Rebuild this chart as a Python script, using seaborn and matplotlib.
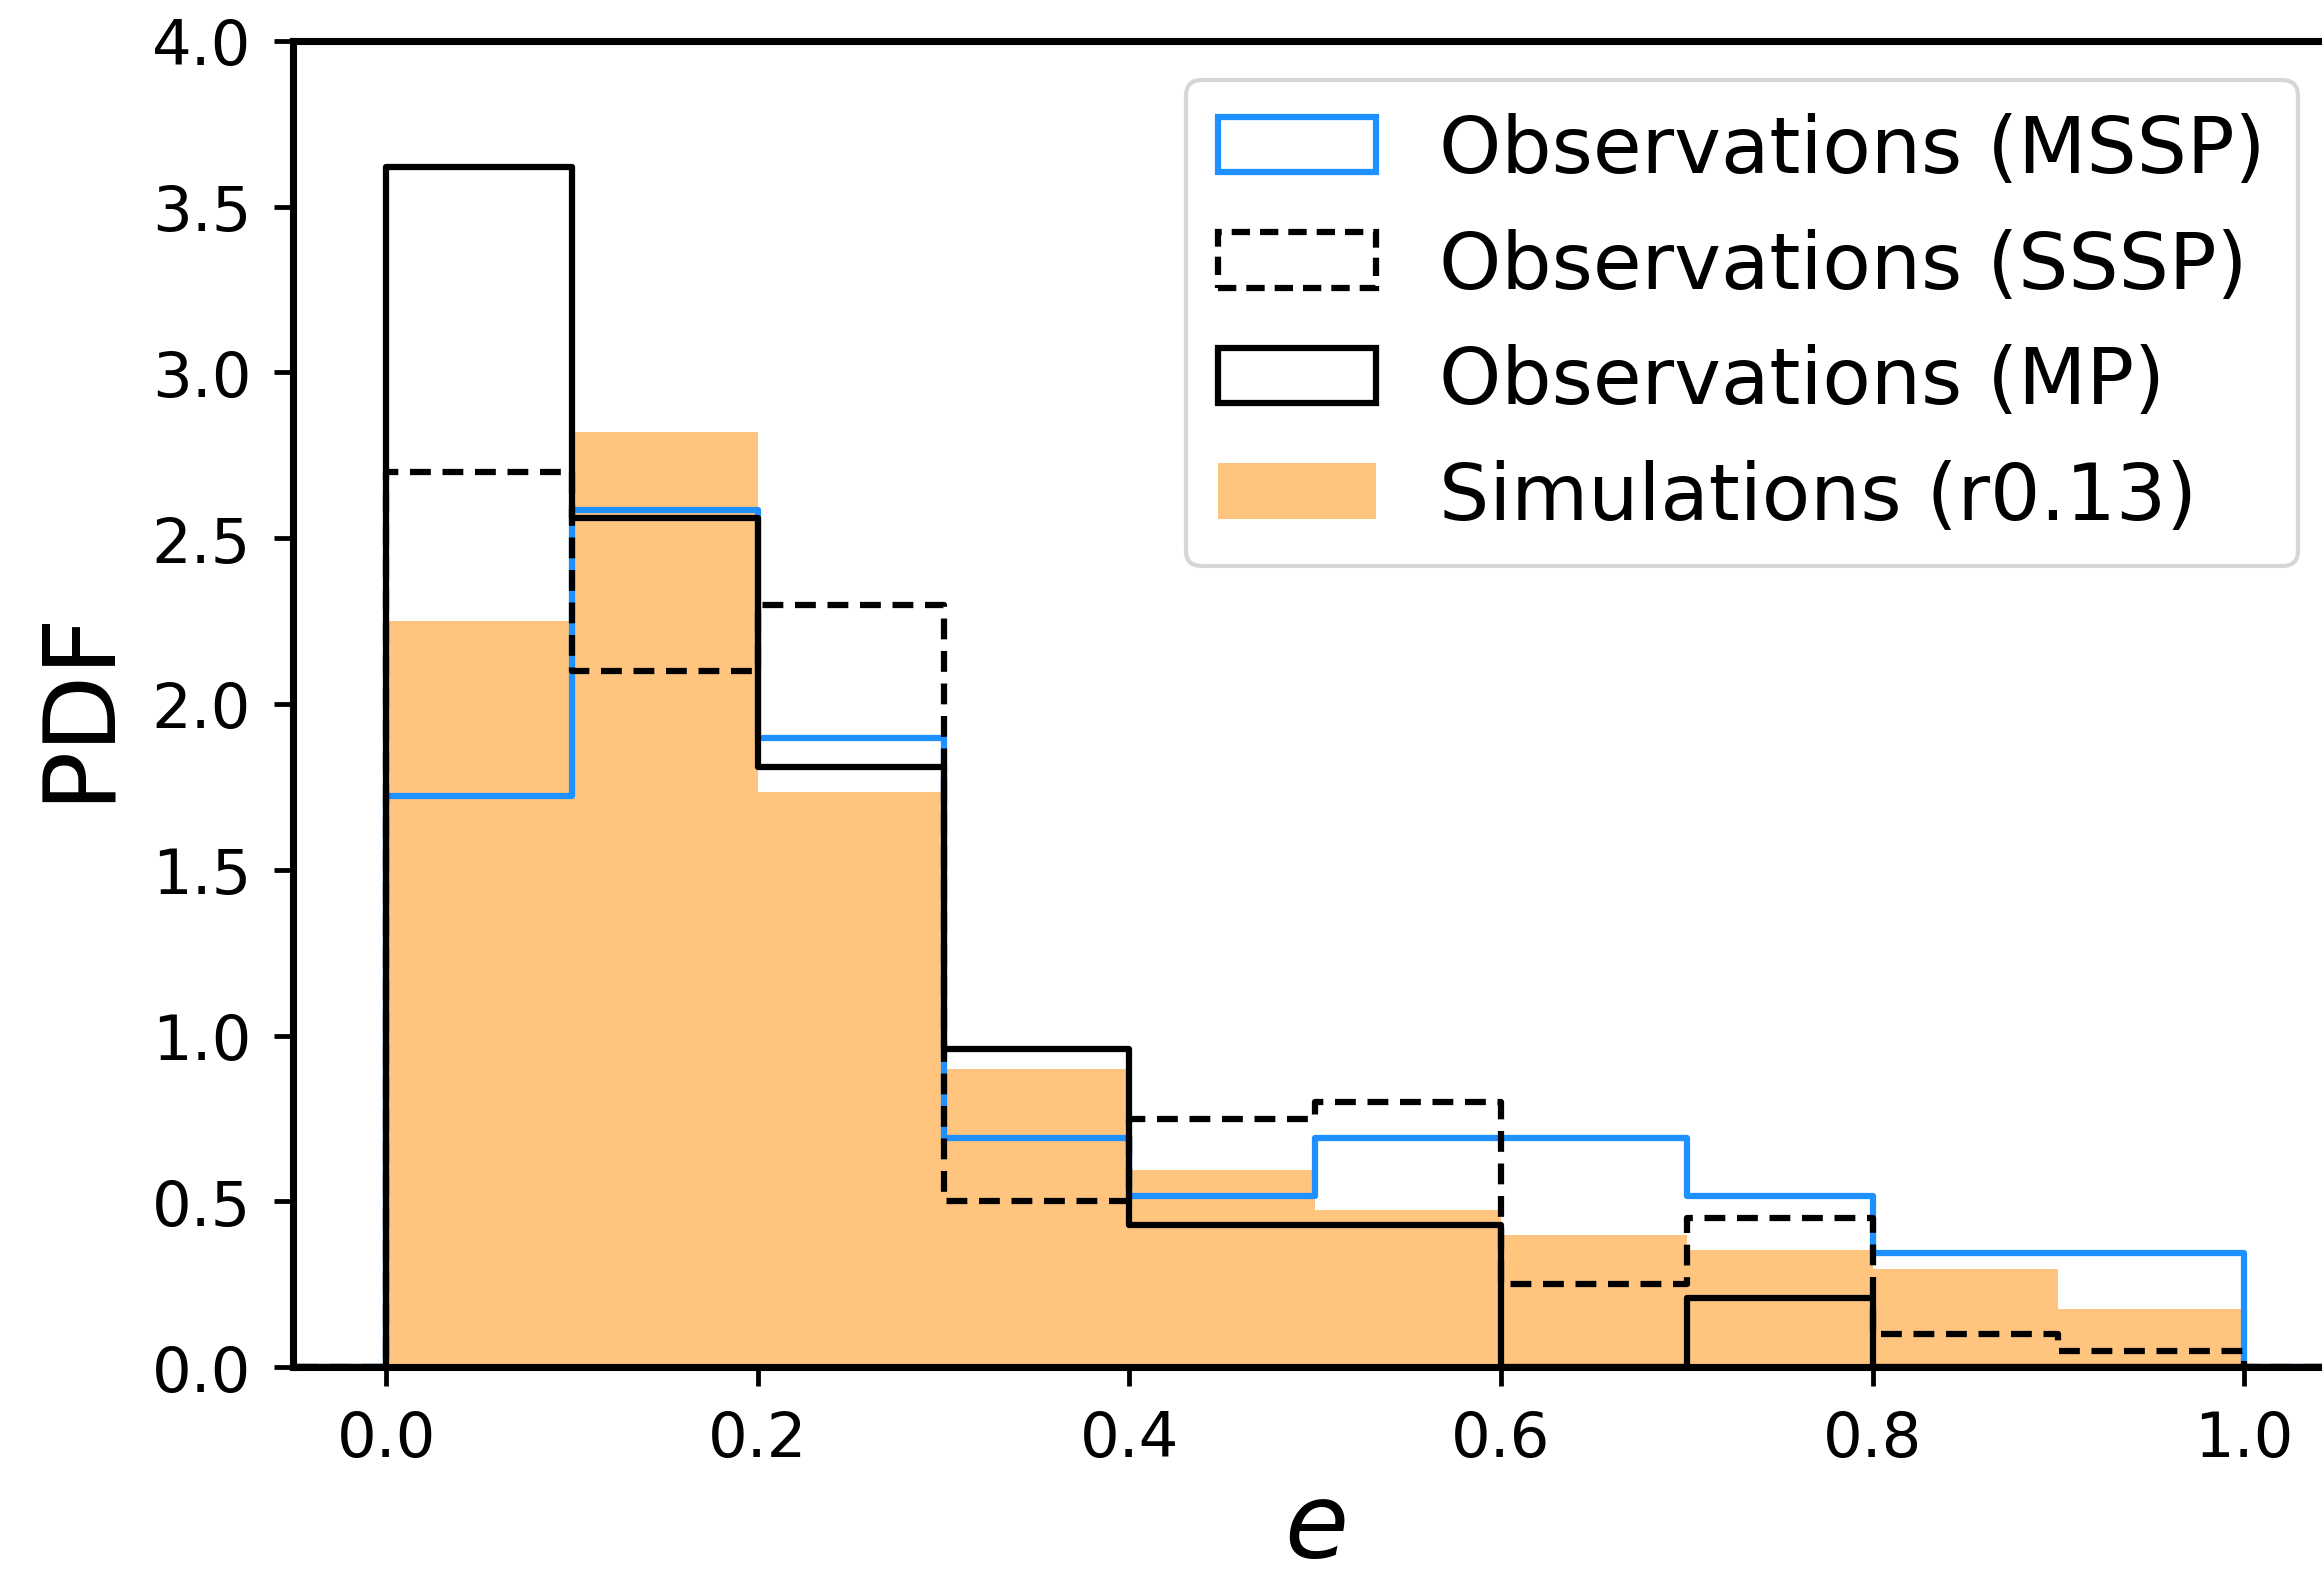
import numpy as np
import pandas as pd
import matplotlib
matplotlib.use("Agg")
import matplotlib.pyplot as plt
import matplotlib.patches as mpatches
import seaborn as sns

# Eccentricity bins and normalised histogram heights (PDF per bin)
bin_edges = [0.0, 0.1, 0.2, 0.3, 0.4, 0.5, 0.6, 0.7, 0.8, 0.9, 1.0]
pdf_mssp = [1.724, 2.586, 1.897, 0.690, 0.517, 0.690, 0.690, 0.517, 0.345, 0.345]
pdf_sssp = [2.70, 2.10, 2.30, 0.50, 0.75, 0.80, 0.25, 0.45, 0.10, 0.05]
pdf_mp = [3.62, 2.56, 1.81, 0.96, 0.43, 0.43, 0.0, 0.21, 0.0, 0.0]
pdf_sim = [2.25, 2.82, 1.735, 0.898, 0.596, 0.473, 0.40, 0.354, 0.296, 0.177]

labels = ["Observations (MSSP)", "Observations (SSSP)",
          "Observations (MP)", "Simulations (r0.13)"]
x_ticks = [0.0, 0.2, 0.4, 0.6, 0.8, 1.0]
y_ticks = [0.0, 0.5, 1.0, 1.5, 2.0, 2.5, 3.0, 3.5, 4.0]

sns.set_theme(style="ticks")
plt.rcParams["font.family"] = ["DejaVu Sans"]
plt.rcParams["mathtext.fontset"] = "dejavusans"
plt.rcParams["lines.scale_dashes"] = False
plt.rcParams["text.color"] = "black"
plt.rcParams["axes.labelcolor"] = "black"
plt.rcParams["xtick.color"] = "black"
plt.rcParams["ytick.color"] = "black"

fig = plt.figure(figsize=(7.74, 5.2633), dpi=300)
ax = fig.add_axes([0.12632, 0.13344, 0.88018, 0.84015])

edges = np.array(bin_edges)
width = edges[1] - edges[0]
centers = (edges[:-1] + edges[1:]) / 2
# one empty bin on either side so each outline closes down to zero
pad_edges = np.concatenate([[edges[0] - width], edges, [edges[-1] + width]]).tolist()
pad_centers = np.concatenate([[centers[0] - width], centers, [centers[-1] + width]])


def frame(values):
    return pd.DataFrame({"e": pad_centers,
                         "w": np.concatenate([[0.0], values, [0.0]])})


LW = 1.5
DASH = (0, (5.0, 2.8))
sns.histplot(data=frame(pdf_sim), x="e", weights="w", bins=pad_edges,
             stat="count", element="step", fill=True, color="darkorange",
             alpha=0.5, linewidth=0, ax=ax, zorder=1)
sns.histplot(data=frame(pdf_mssp), x="e", weights="w", bins=pad_edges,
             stat="count", element="step", fill=False, color="dodgerblue",
             linewidth=LW, ax=ax, zorder=2)
sns.histplot(data=frame(pdf_sssp), x="e", weights="w", bins=pad_edges,
             stat="count", element="step", fill=False, color="black",
             linewidth=LW, linestyle=DASH, ax=ax, zorder=2.1)
sns.histplot(data=frame(pdf_mp), x="e", weights="w", bins=pad_edges,
             stat="count", element="step", fill=False, color="black",
             linewidth=LW, ax=ax, zorder=2.2)

ax.set_xlim(-0.05, 1.05)
ax.set_ylim(0, 4.0)
ax.set_xticks(x_ticks)
ax.set_yticks(y_ticks)
ax.set_xticklabels([f"{t:.1f}" for t in x_ticks])
ax.set_yticklabels([f"{t:.1f}" for t in y_ticks])
ax.tick_params(axis="both", labelsize=15, length=4.6, width=1.15,
               pad=5.5, color="black", labelcolor="black")
for sp in ax.spines.values():
    sp.set_linewidth(1.7)
    sp.set_color("black")
    sp.set_visible(True)

ax.set_xlabel("$e$", fontsize=25, labelpad=2, color="black")
ax.set_ylabel("PDF", fontsize=24, labelpad=6, color="black")

handles = [
    mpatches.Patch(facecolor="none", edgecolor="dodgerblue", linewidth=LW),
    mpatches.Patch(facecolor="none", edgecolor="black", linewidth=LW,
                   linestyle=(0, (4.4, 2.4))),
    mpatches.Patch(facecolor="none", edgecolor="black", linewidth=LW),
    mpatches.Patch(facecolor="darkorange", alpha=0.5, linewidth=0),
]
leg = ax.legend(handles, labels, loc="upper right", fontsize=19,
                frameon=True, fancybox=True, framealpha=0.8,
                edgecolor="0.8")
leg.get_frame().set_linewidth(1.0)
for t in leg.get_texts():
    t.set_color("black")

fig.savefig("out.png", dpi=300, facecolor="white")
